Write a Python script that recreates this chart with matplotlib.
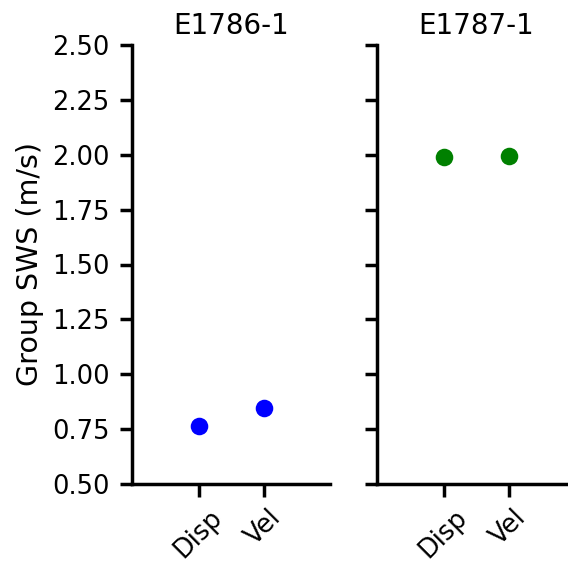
import matplotlib
matplotlib.use("Agg")
import matplotlib.pyplot as plt

# Group shear-wave speed per sample and method
methods = ["Disp", "Vel"]
samples = ["E1786-1", "E1787-1"]
sws_e1786 = [0.765, 0.845]
sws_e1787 = [1.99, 1.995]
colors = ["blue", "green"]
yticks = [0.50, 0.75, 1.00, 1.25, 1.50, 1.75, 2.00, 2.25, 2.50]

plt.rcParams.update({
    "font.family": "DejaVu Sans",
    "axes.linewidth": 2.5,
    "xtick.major.width": 2.5,
    "ytick.major.width": 2.5,
    "xtick.major.size": 9,
    "ytick.major.size": 9,
    "xtick.major.pad": 6,
    "ytick.major.pad": 7,
    "xtick.labelsize": 18.5,
    "ytick.labelsize": 18.5,
    "axes.labelsize": 20.5,
    "axes.titlesize": 20,
})

W, H = 568, 570
fig = plt.figure(figsize=(W / 100, H / 100), dpi=100)
ax_w = 198 / W
ax_h = 439 / H
ax_b = (H - 484) / H
ax1 = fig.add_axes([132 / W, ax_b, ax_w, ax_h])
ax2 = fig.add_axes([377 / W, ax_b, ax_w, ax_h], sharey=ax1)

for ax, vals, col, title in zip([ax1, ax2], [sws_e1786, sws_e1787], colors, samples):
    ax.scatter(range(len(methods)), vals, s=160, color=col, zorder=3, linewidths=0)
    ax.set_xticks(range(len(methods)))
    ax.set_xticklabels(methods, rotation=45)
    ax.set_xlim(-1.03, 2.02)
    ax.set_title(title, pad=8)
    for side in ("top", "right"):
        ax.spines[side].set_visible(False)

ax1.set_ylim(0.5, 2.5)
ax1.set_yticks(yticks)
ax1.set_yticklabels([f"{v:.2f}" for v in yticks])
ax1.set_ylabel("Group SWS (m/s)", labelpad=6)
ax2.tick_params(axis="y", labelleft=False)

fig.savefig("out.png", dpi=100)
